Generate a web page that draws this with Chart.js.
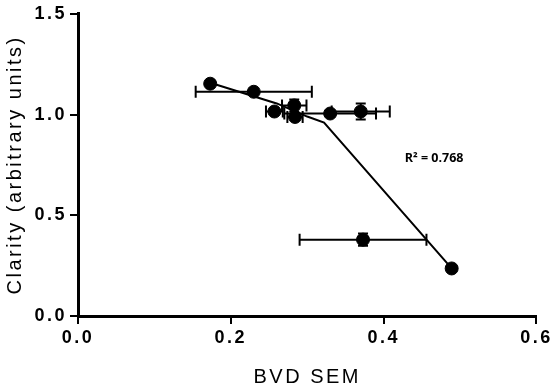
<!DOCTYPE html>
<html>
<head>
<meta charset="utf-8">
<script src="https://cdn.jsdelivr.net/npm/chart.js@4/dist/chart.umd.min.js"></script>
<style>
  html, body { margin: 0; padding: 0; background: #fff; }
  #wrap { width: 552px; height: 392px; }
</style>
</head>
<body>
<div id="wrap"><canvas id="c" width="552" height="392"></canvas></div>
<script>
// measured points (BVD SEM vs clarity)
var bvd     = [0.173, 0.230, 0.257, 0.283, 0.284, 0.330, 0.370, 0.373, 0.489]
var clarity = [1.153, 1.113, 1.015, 1.045, 0.988, 1.005, 1.015, 0.379, 0.236]
var bvd_err = [0, 0.076, 0.011, 0.016, 0.010, 0.060, 0.038, 0.083, 0]
var cla_err = [0, 0, 0, 0.030, 0, 0.015, 0.040, 0.030, 0]

// fitted curve
var fit_x = [0.173, 0.260, 0.300, 0.322, 0.489]
var fit_y = [1.158, 1.055, 0.990, 0.960, 0.236]

var r2_text = "R² = 0.768"
var r2_pos = {x: 0.466, y: 0.78}

var x_ticks = [0, 0.2, 0.4, 0.6]
var y_ticks = [0, 0.5, 1.0, 1.5]

var pts = bvd.map(function(v, i){ return {x: v, y: clarity[i]} })
var fit = fit_x.map(function(v, i){ return {x: v, y: fit_y[i]} })

const errorBars = {
    id: "errorBars",
    beforeDraw(chart){
        // the original axis text is spaced out a bit
        chart.ctx.letterSpacing = "2.5px"
    },
    beforeDatasetsDraw(chart){
        let ctx = chart.ctx
        let xs = chart.scales.x
        let ys = chart.scales.y
        ctx.save()
        ctx.strokeStyle = "#000"
        ctx.lineWidth = 2
        for (let i = 0; i < bvd.length; i++){
            let px = xs.getPixelForValue(bvd[i])
            let py = ys.getPixelForValue(clarity[i])
            if (bvd_err[i] > 0){
                let l = xs.getPixelForValue(bvd[i] - bvd_err[i])
                let r = xs.getPixelForValue(bvd[i] + bvd_err[i])
                ctx.beginPath()
                ctx.moveTo(l, py); ctx.lineTo(r, py)
                ctx.moveTo(l, py - 6); ctx.lineTo(l, py + 6)
                ctx.moveTo(r, py - 6); ctx.lineTo(r, py + 6)
                ctx.stroke()
            }
            if (cla_err[i] > 0){
                let t = ys.getPixelForValue(clarity[i] + cla_err[i])
                let b = ys.getPixelForValue(clarity[i] - cla_err[i])
                ctx.beginPath()
                ctx.moveTo(px, t); ctx.lineTo(px, b)
                ctx.moveTo(px - 5, t); ctx.lineTo(px + 5, t)
                ctx.moveTo(px - 5, b); ctx.lineTo(px + 5, b)
                ctx.stroke()
            }
        }
        ctx.restore()
    },
    afterDraw(chart){
        let ctx = chart.ctx
        let px = chart.scales.x.getPixelForValue(r2_pos.x)
        let py = chart.scales.y.getPixelForValue(r2_pos.y)
        ctx.save()
        ctx.letterSpacing = "0px"
        ctx.fillStyle = "#000"
        ctx.font = "bold 12.5px 'Open Sans', 'Liberation Sans', sans-serif"
        ctx.textAlign = "center"
        ctx.textBaseline = "middle"
        ctx.fillText(r2_text, px, py)
        ctx.restore()
    }
}

const canvas = document.getElementById("c")
let chart = new Chart(canvas.getContext("2d"), {
    type: "scatter",
    data: {
        datasets: [
            {
                data: pts,
                backgroundColor: "#000",
                borderColor: "#000",
                pointRadius: 6.5,
                pointHoverRadius: 6.5,
                order: 1
            },
            {
                type: "line",
                data: fit,
                borderColor: "#000",
                borderWidth: 2,
                pointRadius: 0,
                fill: false,
                tension: 0,
                order: 2
            }
        ]
    },
    options: {
        responsive: false,
        animation: false,
        devicePixelRatio: 1,
        layout: {padding: {top: 12, right: 15, left: 0, bottom: 0}},
        plugins: {legend: {display: false}, tooltip: {enabled: false}},
        scales: {
            x: {
                type: "linear",
                min: 0, max: 0.6,
                afterBuildTicks: function(s){ s.ticks = x_ticks.map(function(v){ return {value: v} }) },
                afterFit: function(s){ s.height = 76 },
                border: {color: "#000", width: 3},
                grid: {display: true, drawOnChartArea: false, drawTicks: true, tickLength: 8, color: "#000", lineWidth: 2},
                ticks: {
                    color: "#000",
                    padding: 3,
                    font: {family: "'Liberation Sans', Arial, sans-serif", size: 18, weight: "bold"},
                    callback: function(v){ return Number(v).toFixed(1) }
                },
                title: {
                    display: true,
                    text: "BVD SEM",
                    color: "#000",
                    padding: {top: 0, bottom: 3},
                    font: {family: "'Liberation Sans', Arial, sans-serif", size: 20}
                }
            },
            y: {
                type: "linear",
                min: 0, max: 1.5,
                afterBuildTicks: function(s){ s.ticks = y_ticks.map(function(v){ return {value: v} }) },
                afterFit: function(s){ s.width = 78 },
                border: {color: "#000", width: 3},
                grid: {display: true, drawOnChartArea: false, drawTicks: true, tickLength: 8, color: "#000", lineWidth: 2},
                ticks: {
                    color: "#000",
                    padding: 3,
                    font: {family: "'Liberation Sans', Arial, sans-serif", size: 18, weight: "bold"},
                    callback: function(v){ return Number(v).toFixed(1) }
                },
                title: {
                    display: true,
                    text: "Clarity (arbitrary units)",
                    color: "#000",
                    padding: {top: 3, bottom: 0},
                    font: {family: "'Liberation Sans', Arial, sans-serif", size: 20}
                }
            }
        }
    },
    plugins: [errorBars]
})
</script>
</body>
</html>
